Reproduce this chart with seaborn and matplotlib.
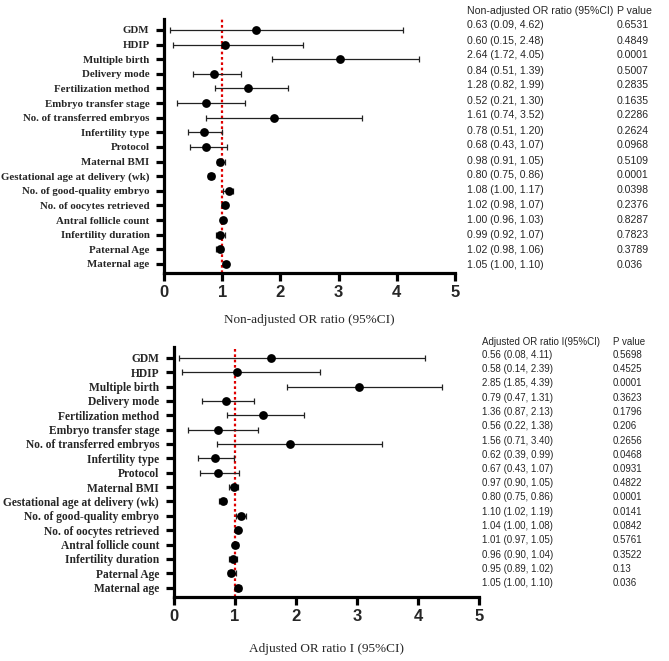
import numpy as np
import pandas as pd
import matplotlib
matplotlib.use("Agg")
import matplotlib.pyplot as plt
import seaborn as sns

variables = ["GDM", "HDIP", "Multiple birth", "Delivery mode", "Fertilization method",
             "Embryo transfer stage", "No. of transferred embryos", "Infertility type",
             "Protocol", "Maternal BMI", "Gestational age at delivery (wk)",
             "No. of good-quality embryo", "No. of oocytes retrieved", "Antral follicle count",
             "Infertility duration", "Paternal Age", "Maternal age"]

# plotted estimates
top_or = [1.58, 1.05, 3.02, 0.86, 1.45, 0.73, 1.89, 0.68, 0.73, 0.97, 0.81, 1.11, 1.05, 1.02, 0.97, 0.96, 1.06]
top_lo = [0.10, 0.15, 1.86, 0.49, 0.88, 0.23, 0.73, 0.41, 0.44, 0.91, 0.75, 1.02, 1.00, 0.98, 0.90, 0.89, 1.01]
top_hi = [4.11, 2.39, 4.38, 1.32, 2.13, 1.39, 3.40, 1.00, 1.08, 1.05, 0.86, 1.19, 1.09, 1.05, 1.04, 1.02, 1.10]

bot_or = [1.59, 1.04, 3.03, 0.86, 1.46, 0.73, 1.90, 0.67, 0.73, 0.98, 0.80, 1.10, 1.05, 1.01, 0.97, 0.94, 1.05]
bot_lo = [0.09, 0.14, 1.85, 0.47, 0.87, 0.23, 0.71, 0.39, 0.43, 0.90, 0.75, 1.02, 1.00, 0.97, 0.90, 0.89, 1.00]
bot_hi = [4.12, 2.40, 4.40, 1.32, 2.13, 1.38, 3.41, 0.99, 1.07, 1.05, 0.86, 1.19, 1.08, 1.05, 1.04, 1.02, 1.10]

top_text = ["0.63 (0.09, 4.62)", "0.60 (0.15, 2.48)", "2.64 (1.72, 4.05)", "0.84 (0.51, 1.39)",
            "1.28 (0.82, 1.99)", "0.52 (0.21, 1.30)", "1.61 (0.74, 3.52)", "0.78 (0.51, 1.20)",
            "0.68 (0.43, 1.07)", "0.98 (0.91, 1.05)", "0.80 (0.75, 0.86)", "1.08 (1.00, 1.17)",
            "1.02 (0.98, 1.07)", "1.00 (0.96, 1.03)", "0.99 (0.92, 1.07)", "1.02 (0.98, 1.06)",
            "1.05 (1.00, 1.10)"]
top_p = ["0.6531", "0.4849", "0.0001", "0.5007", "0.2835", "0.1635", "0.2286", "0.2624", "0.0968",
         "0.5109", "0.0001", "0.0398", "0.2376", "0.8287", "0.7823", "0.3789", "0.036"]

bot_text = ["0.56 (0.08, 4.11)", "0.58 (0.14, 2.39)", "2.85 (1.85, 4.39)", "0.79 (0.47, 1.31)",
            "1.36 (0.87, 2.13)", "0.56 (0.22, 1.38)", "1.56 (0.71, 3.40)", "0.62 (0.39, 0.99)",
            "0.67 (0.43, 1.07)", "0.97 (0.90, 1.05)", "0.80 (0.75, 0.86)", "1.10 (1.02, 1.19)",
            "1.04 (1.00, 1.08)", "1.01 (0.97, 1.05)", "0.96 (0.90, 1.04)", "0.95 (0.89, 1.02)",
            "1.05 (1.00, 1.10)"]
bot_p = ["0.5698", "0.4525", "0.0001", "0.3623", "0.1796", "0.206", "0.2656", "0.0468", "0.0931",
         "0.4822", "0.0001", "0.0141", "0.0842", "0.5761", "0.3522", "0.13", "0.036"]

sns.set_style("white")
W, H = 669, 661
fig = plt.figure(figsize=(W / 100, H / 100), dpi=100)

def px_rect(l, r, top, bottom):
    return [l / W, 1 - bottom / H, (r - l) / W, (bottom - top) / H]

def forest(rect, ors, los, his, ylim, label_fs, xlabel, xlabel_y):
    ax = fig.add_axes(rect)
    df = pd.DataFrame({"var": variables, "OR": ors, "lo": los, "hi": his,
                       "pos": np.arange(len(variables))})
    ax.axvline(1, color="#e00000", ls=(0, (1.2, 1.2)), lw=1.6, zorder=1)
    ax.errorbar(df["OR"], df["pos"],
                xerr=[df["OR"] - df["lo"], df["hi"] - df["OR"]],
                fmt="none", ecolor="#222222", elinewidth=0.9, capsize=2.2, capthick=0.9, zorder=2)
    sns.scatterplot(data=df, x="OR", y="pos", ax=ax, color="black", s=40,
                    edgecolor="black", linewidth=0, zorder=3, legend=False)
    ax.set_xlim(0, 5)
    ax.set_ylim(*ylim)
    ax.set_yticks(df["pos"])
    ax.set_yticklabels(variables, fontfamily="Liberation Serif", fontweight="bold", fontsize=label_fs)
    ax.set_xticks([0, 1, 2, 3, 4, 5])
    ax.set_xticklabels(["0", "1", "2", "3", "4", "5"], fontfamily="Liberation Sans",
                       fontweight="bold", fontsize=12)
    for s in ["top", "right"]:
        ax.spines[s].set_visible(False)
    for s in ["left", "bottom"]:
        ax.spines[s].set_linewidth(2.3)
        ax.spines[s].set_color("black")
    ax.tick_params(axis="y", length=5.5, width=2.3, pad=5, left=True, color="black")
    ax.tick_params(axis="x", length=5.5, width=2.3, pad=3, bottom=True, color="black")
    ax.set_ylabel("")
    ax.set_xlabel(xlabel, fontfamily="Liberation Serif", fontsize=9.5)
    ax.xaxis.label.set_va("center")
    ax.xaxis.set_label_coords(0.5, xlabel_y)
    ax.grid(False)
    return ax

forest(px_rect(164, 455, 19, 273), top_or, top_lo, top_hi, (16.62, -0.75), 7.85,
       "Non-adjusted OR ratio (95%CI)", -47 / 254)
forest(px_rect(173.7, 479, 346.7, 597.3), bot_or, bot_lo, bot_hi, (16.67, -0.77), 8.3,
       "Adjusted OR ratio I (95%CI)", -52 / 250.6)

def table(x1, x2, y_head, y0, dy, head1, rows, prows, fs):
    kw = dict(fontfamily="Liberation Sans", fontsize=fs, va="center", ha="left")
    fig.text(x1 / W, 1 - y_head / H, head1, **kw)
    fig.text(x2 / W, 1 - y_head / H, "P value", **kw)
    for i, (t, p) in enumerate(zip(rows, prows)):
        y = y0 + dy * i
        fig.text(x1 / W, 1 - y / H, t, **kw)
        fig.text(x2 / W, 1 - y / H, p, **kw)

table(467, 617, 11, 25.5, 15.0, "Non-adjusted OR ratio (95%CI)", top_text, top_p, 7.55)
table(482, 613, 341.7, 355, 14.25, "Adjusted OR ratio I(95%CI)", bot_text, bot_p, 7.05)

fig.savefig("out.png", dpi=100)
